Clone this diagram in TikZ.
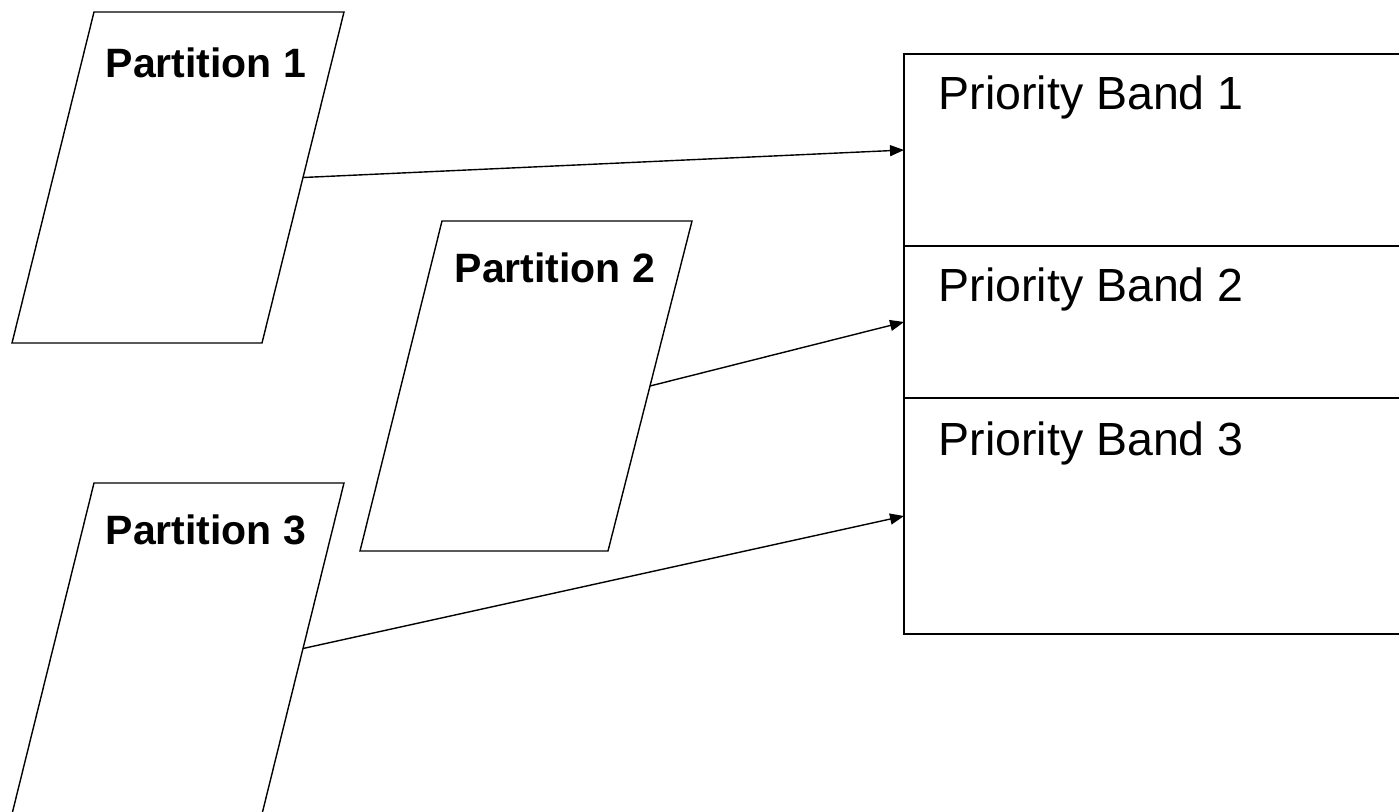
\documentclass[tikz,border=0pt]{standalone}
\usepackage{fontspec}
\setmainfont{Liberation Sans}
\usetikzlibrary{arrows.meta,calc}
\begin{document}
\begin{tikzpicture}[x=1pt,y=-1pt,line width=1.4pt,line join=miter,
  partlabel/.style={anchor=base west,inner sep=0pt,font=\fontsize{41}{49}\selectfont\bfseries},
  bandlabel/.style={anchor=base west,inner sep=0pt,font=\fontsize{46.5}{56}\selectfont},
  band/.style={draw,rectangle,anchor=north west,inner sep=0pt,outer sep=0pt,minimum width=530pt},
  feed/.style={-{Triangle[length=14pt,width=11pt]}}]
\useasboundingbox (0,0) rectangle (1399,811);
\clip (0,0) rectangle (1399,811);

% partition 1
\coordinate (p1tl) at (94,12);  \coordinate (p1tr) at (344,12);
\coordinate (p1br) at (262,343); \coordinate (p1bl) at (12,343);
\draw (p1tl) -- (p1tr) -- (p1br) -- (p1bl) -- cycle;
\coordinate (p1out) at ($(p1tr)!0.5!(p1br)$);
\node[partlabel] (lab1) at (105,77) {Partition 1};

% partition 2
\coordinate (p2tl) at (442,221); \coordinate (p2tr) at (692,221);
\coordinate (p2br) at (608,551); \coordinate (p2bl) at (360,551);
\draw (p2tl) -- (p2tr) -- (p2br) -- (p2bl) -- cycle;
\coordinate (p2out) at ($(p2tr)!0.5!(p2br)$);
\node[partlabel] (lab2) at (454,282) {Partition 2};

% partition 3 (runs past the lower edge)
\coordinate (p3tl) at (94,483);  \coordinate (p3tr) at (344,483);
\coordinate (p3br) at (262,814); \coordinate (p3bl) at (12,814);
\draw (p3tl) -- (p3tr) -- (p3br) -- (p3bl) -- cycle;
\coordinate (p3out) at ($(p3tr)!0.5!(p3br)$);
\node[partlabel] (lab3) at (105,544) {Partition 3};

% priority bands (open to the right)
\node[band,minimum height=192pt] (b1) at (904,54) {};
\node[band,minimum height=152pt] (b2) at (904,246) {};
\node[band,minimum height=236pt] (b3) at (904,398) {};
\node[bandlabel] (t1) at (938,109) {Priority Band 1};
\node[bandlabel] (t2) at (938,301) {Priority Band 2};
\node[bandlabel] (t3) at (938,455) {Priority Band 3};

% feeds
\draw[feed] (p1out) -- (b1.west);
\draw[feed] (p2out) -- (b2.west);
\draw[feed] (p3out) -- (b3.west);
\end{tikzpicture}
\end{document}
